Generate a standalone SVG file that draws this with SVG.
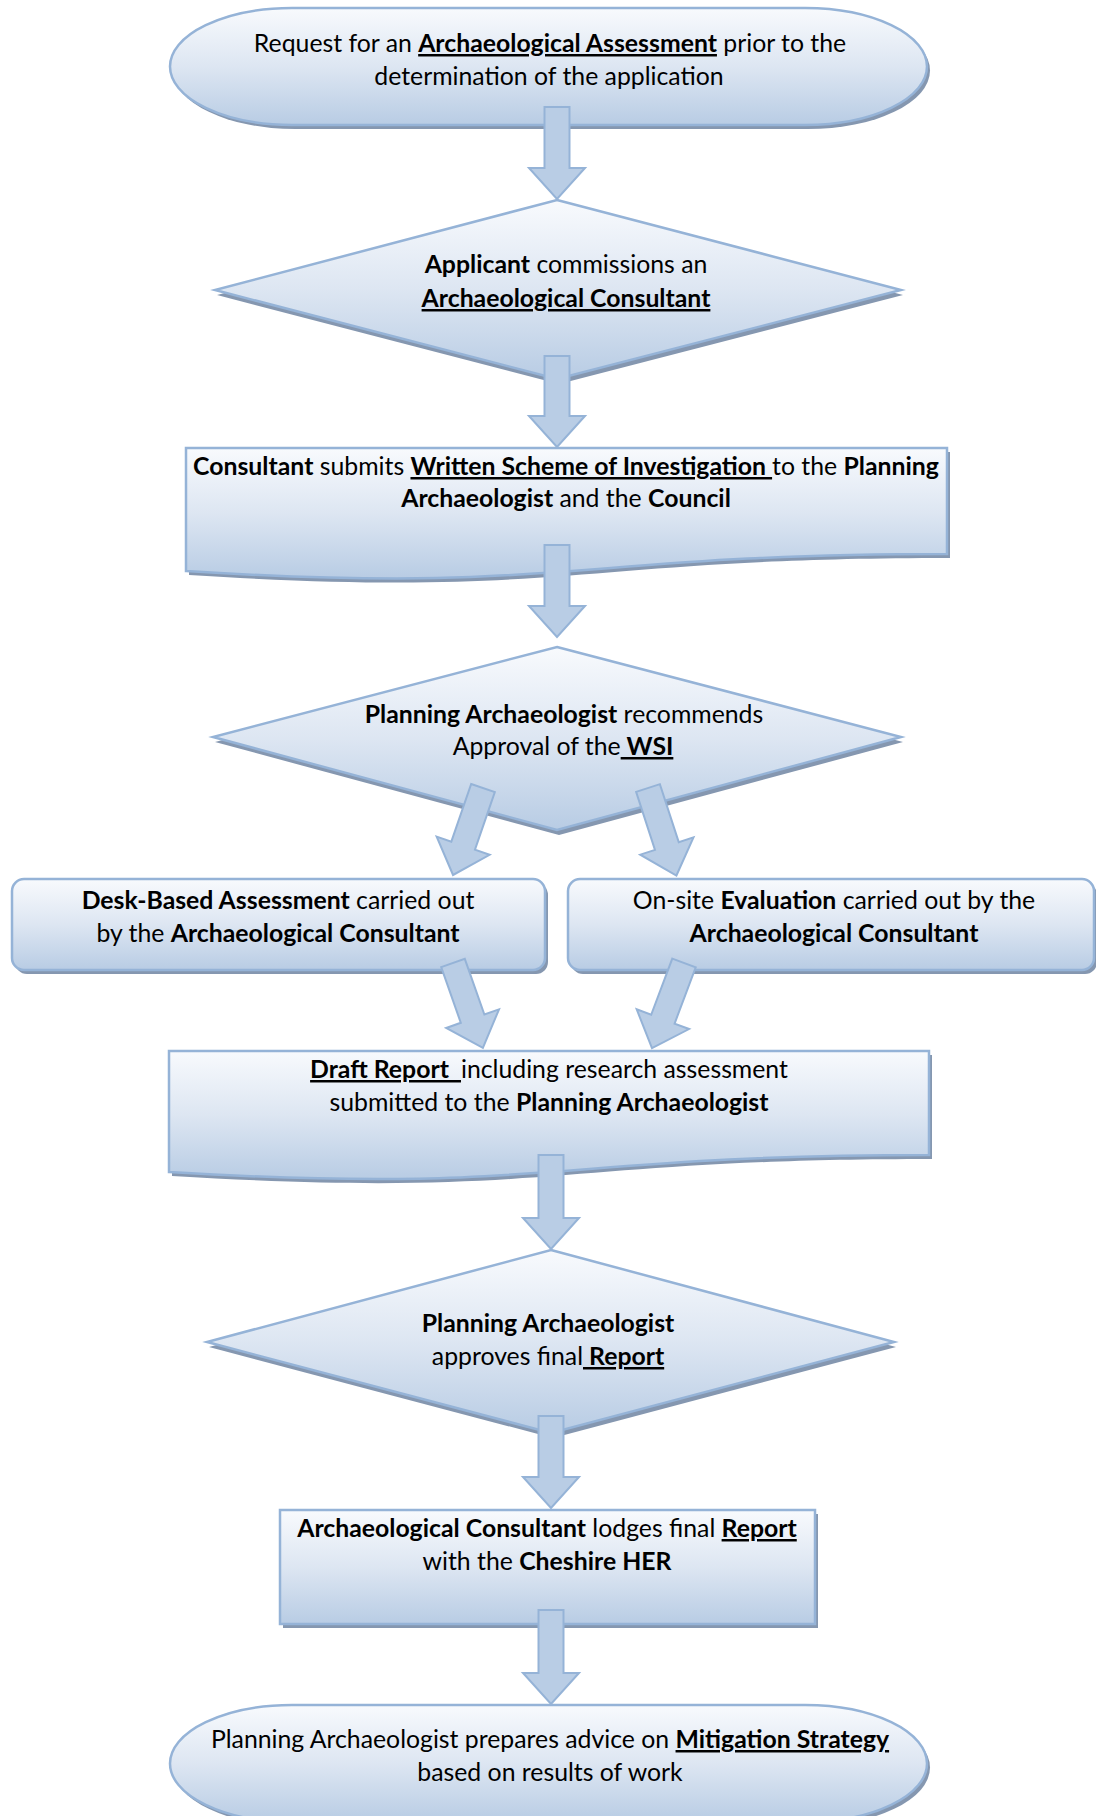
<svg xmlns="http://www.w3.org/2000/svg" width="1096" height="1816" viewBox="0 0 1096 1816">
<defs>
<linearGradient id="g" x1="0" y1="0" x2="0" y2="1">
<stop offset="0" stop-color="#f8fafd"/>
<stop offset="0.5" stop-color="#dde6f2"/>
<stop offset="1" stop-color="#b8cce4"/>
</linearGradient>
</defs>
<style>
.node{fill:url(#g);stroke:#95b3d7;stroke-width:2.5}
.sh{fill:#8597b0;stroke:none}
.a{fill:#b9cde5;stroke:#95b3d7;stroke-width:2}
text{font-family:Lato,"Open Sans","Liberation Sans",sans-serif;font-size:24.8px;fill:#000;text-anchor:middle;white-space:pre}
.b{font-weight:700}
.u{text-decoration:underline}
</style>
<rect width="1096" height="1816" fill="#fff"/>

<g id="n1">
<rect class="sh" x="173" y="12" width="757" height="117" rx="122" ry="58.5"/>
<rect class="node" x="170" y="8" width="757" height="117" rx="122" ry="58.5"/>
<text x="550" y="52">Request for an <tspan class="b u">Archaeological Assessment</tspan> prior to the</text>
<text x="549" y="85">determination of the application</text>
</g>

<g id="n2">
<polygon class="sh" points="559,205 903,295 559,384 217,295"/>
<polygon class="node" points="557,200 901,290 557,379 215,290"/>
<text x="566" y="273"><tspan class="b">Applicant</tspan> commissions an</text>
<text x="566" y="307" class="b u">Archaeological Consultant</text>
</g>

<g id="n3">
<path class="sh" d="M189,452 H950 V558 C569.5,558 569.5,599 189,575 Z"/>
<path class="node" d="M186,448 H947 V554 C566.5,554 566.5,595 186,571 Z"/>
<text x="566" y="475"><tspan class="b">Consultant</tspan> submits <tspan class="b u">Written Scheme of Investigation </tspan>to the <tspan class="b">Planning</tspan></text>
<text x="566" y="507"><tspan class="b">Archaeologist</tspan> and the <tspan class="b">Council</tspan></text>
</g>

<g id="n4">
<polygon class="sh" points="559,652 903,742 559,835 215,742"/>
<polygon class="node" points="557,647 901,737 557,830 213,737"/>
<text x="564" y="723"><tspan class="b">Planning Archaeologist</tspan> recommends</text>
<text x="563" y="755">Approval of the<tspan class="b u"> WSI</tspan></text>
</g>

<g id="n5">
<rect class="sh" x="15" y="883" width="533" height="91" rx="12"/>
<rect class="node" x="12" y="879" width="533" height="91" rx="12"/>
<text x="278" y="909"><tspan class="b">Desk-Based Assessment</tspan> carried out</text>
<text x="278" y="942">by the <tspan class="b">Archaeological Consultant</tspan></text>
</g>

<g id="n6">
<rect class="sh" x="571" y="883" width="526" height="91" rx="12"/>
<rect class="node" x="568" y="879" width="526" height="91" rx="12"/>
<text x="834" y="909">On-site <tspan class="b">Evaluation</tspan> carried out by the</text>
<text x="834" y="942" class="b">Archaeological Consultant</text>
</g>

<g id="n7">
<path class="sh" d="M172,1055 H932 V1159 C552,1159 552,1199 172,1176 Z"/>
<path class="node" d="M169,1051 H929 V1155 C549,1155 549,1195 169,1172 Z"/>
<text x="549" y="1078"><tspan class="b u">Draft Report  </tspan>including research assessment</text>
<text x="549" y="1111">submitted to the <tspan class="b">Planning Archaeologist</tspan></text>
</g>

<g id="n8">
<polygon class="sh" points="553,1255 896,1347 553,1438 209,1347"/>
<polygon class="node" points="551,1250 894,1342 551,1433 207,1342"/>
<text x="548" y="1332" class="b">Planning Archaeologist</text>
<text x="548" y="1365">approves final<tspan class="b u"> Report</tspan></text>
</g>

<g id="n9">
<rect class="sh" x="283" y="1514" width="535" height="114"/>
<rect class="node" x="280" y="1510" width="535" height="114"/>
<text x="547" y="1537"><tspan class="b">Archaeological Consultant</tspan> lodges final <tspan class="b u">Report</tspan></text>
<text x="547" y="1570">with the <tspan class="b">Cheshire HER</tspan></text>
</g>

<g id="n10">
<rect class="sh" x="173" y="1709" width="757" height="117" rx="122" ry="58.5"/>
<rect class="node" x="170" y="1705" width="757" height="117" rx="122" ry="58.5"/>
<text x="550" y="1748">Planning Archaeologist prepares advice on <tspan class="b u">Mitigation Strategy</tspan></text>
<text x="550" y="1781">based on results of work</text>
</g>

<g id="connectors">
<path class="a" d="M544.5,107 H569.5 V168 H585 L557,199 L529,168 H544.5 Z"/>
<path class="a" d="M544.5,356 H569.5 V416 H585 L557,447 L529,416 H544.5 Z"/>
<path class="a" d="M544.5,545 H569.5 V606 H585 L557,637 L529,606 H544.5 Z"/>
<path class="a" transform="translate(483,788) rotate(19)" d="M-12.5,0 H12.5 V61 H28 L0,92 L-28,61 H-12.5 Z"/>
<path class="a" transform="translate(648,788) rotate(-18)" d="M-12.5,0 H12.5 V61 H28 L0,92 L-28,61 H-12.5 Z"/>
<path class="a" transform="translate(453,963) rotate(-19.4)" d="M-12.5,0 H12.5 V59 H28 L0,90 L-28,59 H-12.5 Z"/>
<path class="a" transform="translate(684,963) rotate(20.6)" d="M-12.5,0 H12.5 V60 H28 L0,91 L-28,60 H-12.5 Z"/>
<path class="a" d="M538.5,1155 H563.5 V1218 H579 L551,1249 L523,1218 H538.5 Z"/>
<path class="a" d="M538.5,1416 H563.5 V1477 H579 L551,1508 L523,1477 H538.5 Z"/>
<path class="a" d="M538.5,1610 H563.5 V1673 H579 L551,1704 L523,1673 H538.5 Z"/>
</g>
</svg>
